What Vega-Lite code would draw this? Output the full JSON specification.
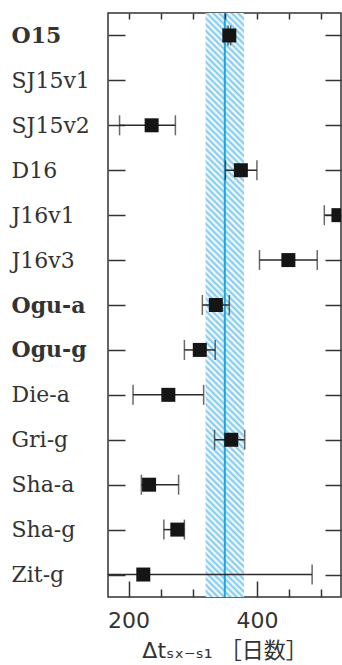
{
"$schema":"https://vega.github.io/schema/vega-lite/v6.json",
"width":233,"height":584,
"autosize":{"type":"none"},
"padding":{"left":108,"top":13,"right":1,"bottom":68},
"background":"#ffffff",
"config":{"view":{"stroke":"#333333","strokeWidth":1.5}},
"datasets":{"est":[
{"name":"O15","value":357,"lo":355,"hi":359},
{"name":"SJ15v2","value":236,"lo":186,"hi":273},
{"name":"D16","value":375,"lo":351,"hi":400},
{"name":"J16v1","value":527,"lo":505,"hi":550},
{"name":"J16v3","value":449,"lo":404,"hi":494},
{"name":"Ogu-a","value":336,"lo":315,"hi":357},
{"name":"Ogu-g","value":311,"lo":287,"hi":335},
{"name":"Die-a","value":262,"lo":207,"hi":317},
{"name":"Gri-g","value":360,"lo":334,"hi":381},
{"name":"Sha-a","value":232,"lo":220,"hi":278},
{"name":"Sha-g","value":276,"lo":255,"hi":287},
{"name":"Zit-g","value":223,"lo":150,"hi":486}
]},
"resolve":{"axis":{"x":"independent","y":"independent"}},
"layer":[
{"data":{"values":[{"lo":320,"hi":380}]},
"mark":{"type":"rect","clip":true,"fill":{"gradient":"linear","x1":0,"y1":1,"x2":0.07,"y2":-0.0613,"stops":[
{"offset":0,"color":"#7cc7ea"},{"offset":0.005,"color":"#fff"},{"offset":0.01,"color":"#7cc7ea"},{"offset":0.015,"color":"#fff"},{"offset":0.02,"color":"#7cc7ea"},{"offset":0.025,"color":"#fff"},{"offset":0.03,"color":"#7cc7ea"},{"offset":0.035,"color":"#fff"},{"offset":0.04,"color":"#7cc7ea"},{"offset":0.045,"color":"#fff"},
{"offset":0.05,"color":"#7cc7ea"},{"offset":0.055,"color":"#fff"},{"offset":0.06,"color":"#7cc7ea"},{"offset":0.065,"color":"#fff"},{"offset":0.07,"color":"#7cc7ea"},{"offset":0.075,"color":"#fff"},{"offset":0.08,"color":"#7cc7ea"},{"offset":0.085,"color":"#fff"},{"offset":0.09,"color":"#7cc7ea"},{"offset":0.095,"color":"#fff"},
{"offset":0.1,"color":"#7cc7ea"},{"offset":0.105,"color":"#fff"},{"offset":0.11,"color":"#7cc7ea"},{"offset":0.115,"color":"#fff"},{"offset":0.12,"color":"#7cc7ea"},{"offset":0.125,"color":"#fff"},{"offset":0.13,"color":"#7cc7ea"},{"offset":0.135,"color":"#fff"},{"offset":0.14,"color":"#7cc7ea"},{"offset":0.145,"color":"#fff"},
{"offset":0.15,"color":"#7cc7ea"},{"offset":0.155,"color":"#fff"},{"offset":0.16,"color":"#7cc7ea"},{"offset":0.165,"color":"#fff"},{"offset":0.17,"color":"#7cc7ea"},{"offset":0.175,"color":"#fff"},{"offset":0.18,"color":"#7cc7ea"},{"offset":0.185,"color":"#fff"},{"offset":0.19,"color":"#7cc7ea"},{"offset":0.195,"color":"#fff"},
{"offset":0.2,"color":"#7cc7ea"},{"offset":0.205,"color":"#fff"},{"offset":0.21,"color":"#7cc7ea"},{"offset":0.215,"color":"#fff"},{"offset":0.22,"color":"#7cc7ea"},{"offset":0.225,"color":"#fff"},{"offset":0.23,"color":"#7cc7ea"},{"offset":0.235,"color":"#fff"},{"offset":0.24,"color":"#7cc7ea"},{"offset":0.245,"color":"#fff"},
{"offset":0.25,"color":"#7cc7ea"},{"offset":0.255,"color":"#fff"},{"offset":0.26,"color":"#7cc7ea"},{"offset":0.265,"color":"#fff"},{"offset":0.27,"color":"#7cc7ea"},{"offset":0.275,"color":"#fff"},{"offset":0.28,"color":"#7cc7ea"},{"offset":0.285,"color":"#fff"},{"offset":0.29,"color":"#7cc7ea"},{"offset":0.295,"color":"#fff"},
{"offset":0.3,"color":"#7cc7ea"},{"offset":0.305,"color":"#fff"},{"offset":0.31,"color":"#7cc7ea"},{"offset":0.315,"color":"#fff"},{"offset":0.32,"color":"#7cc7ea"},{"offset":0.325,"color":"#fff"},{"offset":0.33,"color":"#7cc7ea"},{"offset":0.335,"color":"#fff"},{"offset":0.34,"color":"#7cc7ea"},{"offset":0.345,"color":"#fff"},
{"offset":0.35,"color":"#7cc7ea"},{"offset":0.355,"color":"#fff"},{"offset":0.36,"color":"#7cc7ea"},{"offset":0.365,"color":"#fff"},{"offset":0.37,"color":"#7cc7ea"},{"offset":0.375,"color":"#fff"},{"offset":0.38,"color":"#7cc7ea"},{"offset":0.385,"color":"#fff"},{"offset":0.39,"color":"#7cc7ea"},{"offset":0.395,"color":"#fff"},
{"offset":0.4,"color":"#7cc7ea"},{"offset":0.405,"color":"#fff"},{"offset":0.41,"color":"#7cc7ea"},{"offset":0.415,"color":"#fff"},{"offset":0.42,"color":"#7cc7ea"},{"offset":0.425,"color":"#fff"},{"offset":0.43,"color":"#7cc7ea"},{"offset":0.435,"color":"#fff"},{"offset":0.44,"color":"#7cc7ea"},{"offset":0.445,"color":"#fff"},
{"offset":0.45,"color":"#7cc7ea"},{"offset":0.455,"color":"#fff"},{"offset":0.46,"color":"#7cc7ea"},{"offset":0.465,"color":"#fff"},{"offset":0.47,"color":"#7cc7ea"},{"offset":0.475,"color":"#fff"},{"offset":0.48,"color":"#7cc7ea"},{"offset":0.485,"color":"#fff"},{"offset":0.49,"color":"#7cc7ea"},{"offset":0.495,"color":"#fff"},
{"offset":0.5,"color":"#7cc7ea"},{"offset":0.505,"color":"#fff"},{"offset":0.51,"color":"#7cc7ea"},{"offset":0.515,"color":"#fff"},{"offset":0.52,"color":"#7cc7ea"},{"offset":0.525,"color":"#fff"},{"offset":0.53,"color":"#7cc7ea"},{"offset":0.535,"color":"#fff"},{"offset":0.54,"color":"#7cc7ea"},{"offset":0.545,"color":"#fff"},
{"offset":0.55,"color":"#7cc7ea"},{"offset":0.555,"color":"#fff"},{"offset":0.56,"color":"#7cc7ea"},{"offset":0.565,"color":"#fff"},{"offset":0.57,"color":"#7cc7ea"},{"offset":0.575,"color":"#fff"},{"offset":0.58,"color":"#7cc7ea"},{"offset":0.585,"color":"#fff"},{"offset":0.59,"color":"#7cc7ea"},{"offset":0.595,"color":"#fff"},
{"offset":0.6,"color":"#7cc7ea"},{"offset":0.605,"color":"#fff"},{"offset":0.61,"color":"#7cc7ea"},{"offset":0.615,"color":"#fff"},{"offset":0.62,"color":"#7cc7ea"},{"offset":0.625,"color":"#fff"},{"offset":0.63,"color":"#7cc7ea"},{"offset":0.635,"color":"#fff"},{"offset":0.64,"color":"#7cc7ea"},{"offset":0.645,"color":"#fff"},
{"offset":0.65,"color":"#7cc7ea"},{"offset":0.655,"color":"#fff"},{"offset":0.66,"color":"#7cc7ea"},{"offset":0.665,"color":"#fff"},{"offset":0.67,"color":"#7cc7ea"},{"offset":0.675,"color":"#fff"},{"offset":0.68,"color":"#7cc7ea"},{"offset":0.685,"color":"#fff"},{"offset":0.69,"color":"#7cc7ea"},{"offset":0.695,"color":"#fff"},
{"offset":0.7,"color":"#7cc7ea"},{"offset":0.705,"color":"#fff"},{"offset":0.71,"color":"#7cc7ea"},{"offset":0.715,"color":"#fff"},{"offset":0.72,"color":"#7cc7ea"},{"offset":0.725,"color":"#fff"},{"offset":0.73,"color":"#7cc7ea"},{"offset":0.735,"color":"#fff"},{"offset":0.74,"color":"#7cc7ea"},{"offset":0.745,"color":"#fff"},
{"offset":0.75,"color":"#7cc7ea"},{"offset":0.755,"color":"#fff"},{"offset":0.76,"color":"#7cc7ea"},{"offset":0.765,"color":"#fff"},{"offset":0.77,"color":"#7cc7ea"},{"offset":0.775,"color":"#fff"},{"offset":0.78,"color":"#7cc7ea"},{"offset":0.785,"color":"#fff"},{"offset":0.79,"color":"#7cc7ea"},{"offset":0.795,"color":"#fff"},
{"offset":0.8,"color":"#7cc7ea"},{"offset":0.805,"color":"#fff"},{"offset":0.81,"color":"#7cc7ea"},{"offset":0.815,"color":"#fff"},{"offset":0.82,"color":"#7cc7ea"},{"offset":0.825,"color":"#fff"},{"offset":0.83,"color":"#7cc7ea"},{"offset":0.835,"color":"#fff"},{"offset":0.84,"color":"#7cc7ea"},{"offset":0.845,"color":"#fff"},
{"offset":0.85,"color":"#7cc7ea"},{"offset":0.855,"color":"#fff"},{"offset":0.86,"color":"#7cc7ea"},{"offset":0.865,"color":"#fff"},{"offset":0.87,"color":"#7cc7ea"},{"offset":0.875,"color":"#fff"},{"offset":0.88,"color":"#7cc7ea"},{"offset":0.885,"color":"#fff"},{"offset":0.89,"color":"#7cc7ea"},{"offset":0.895,"color":"#fff"},
{"offset":0.9,"color":"#7cc7ea"},{"offset":0.905,"color":"#fff"},{"offset":0.91,"color":"#7cc7ea"},{"offset":0.915,"color":"#fff"},{"offset":0.92,"color":"#7cc7ea"},{"offset":0.925,"color":"#fff"},{"offset":0.93,"color":"#7cc7ea"},{"offset":0.935,"color":"#fff"},{"offset":0.94,"color":"#7cc7ea"},{"offset":0.945,"color":"#fff"},
{"offset":0.95,"color":"#7cc7ea"},{"offset":0.955,"color":"#fff"},{"offset":0.96,"color":"#7cc7ea"},{"offset":0.965,"color":"#fff"},{"offset":0.97,"color":"#7cc7ea"},{"offset":0.975,"color":"#fff"},{"offset":0.98,"color":"#7cc7ea"},{"offset":0.985,"color":"#fff"},{"offset":0.99,"color":"#7cc7ea"},{"offset":0.995,"color":"#fff"},
{"offset":1,"color":"#7cc7ea"}
]}},
"encoding":{
"x":{"field":"lo","type":"quantitative","scale":{"domain":[168,531],"nice":false,"zero":false},
"axis":{"orient":"bottom","values":[200,250,300,400,450,500],"tickSize":{"condition":{"test":"datum.value % 200 === 0","value":-16},"value":-8},"tickWidth":1.5,"tickColor":"#333333","domain":false,"grid":false,"labelExpr":"datum.value % 200 === 0 ? datum.label : ''","labelFont":"DejaVu Sans","labelFontSize":22,"labelColor":"#333333","labelPadding":29,"labelFlush":false,"labelOverlap":false,"title":"Δtₛₓ₋ₛ₁ ［日数］","titleFont":"DejaVu Sans, Noto Sans CJK JP","titleFontSize":22,"titleFontWeight":"normal","titleColor":"#333333","titleY":60,"titleBaseline":"alphabetic","zindex":1}},
"x2":{"field":"hi"}}},
{"data":{"values":[{"v":350}]},
"mark":{"type":"rule","color":"#1ba6de","strokeWidth":2},
"encoding":{"x":{"field":"v","type":"quantitative","scale":{"domain":[168,531],"nice":false,"zero":false},
"axis":{"orient":"top","values":[200,250,300,350,400,450,500],"tickSize":-6,"tickWidth":1.5,"tickColor":"#333333","labels":false,"domain":false,"grid":false,"title":null,"zindex":1}}}},
{"data":{"name":"est"},
"mark":{"type":"rule","clip":true,"color":"#2a2a2a","strokeWidth":1.5},
"encoding":{
"y":{"field":"name","type":"nominal","sort":null,"scale":{"type":"point","padding":0.5,"domain":["O15","SJ15v1","SJ15v2","D16","J16v1","J16v3","Ogu-a","Ogu-g","Die-a","Gri-g","Sha-a","Sha-g","Zit-g"]},
"axis":{"orient":"left","tickSize":-17,"tickWidth":1.5,"tickColor":"#333333","domain":false,"grid":false,"labelAlign":"left","labelBaseline":"middle","labelPadding":114,"labelLimit":200,"labelFont":"DejaVu Serif","labelFontSize":22,"labelColor":"#333333","labelFontWeight":{"condition":{"test":"indexof(['O15','Ogu-a','Ogu-g'], datum.value) >= 0","value":"bold"},"value":"normal"},"title":null}},
"x":{"field":"lo","type":"quantitative","scale":{"domain":[168,531],"nice":false,"zero":false},"axis":null},
"x2":{"field":"hi"}}},
{"data":{"name":"est"},
"mark":{"type":"tick","clip":true,"color":"#2a2a2a","size":20,"thickness":1.5},
"encoding":{
"y":{"field":"name","type":"nominal","sort":null,"scale":{"type":"point","padding":0.5,"domain":["O15","SJ15v1","SJ15v2","D16","J16v1","J16v3","Ogu-a","Ogu-g","Die-a","Gri-g","Sha-a","Sha-g","Zit-g"]},
"axis":{"orient":"right","tickSize":-16,"tickWidth":1.5,"tickColor":"#333333","labels":false,"domain":false,"grid":false,"title":null}},
"x":{"field":"lo","type":"quantitative","scale":{"domain":[168,531],"nice":false,"zero":false},"axis":null}}},
{"data":{"name":"est"},
"mark":{"type":"tick","clip":true,"color":"#2a2a2a","size":20,"thickness":1.5},
"encoding":{
"y":{"field":"name","type":"nominal","sort":null,"scale":{"type":"point","padding":0.5,"domain":["O15","SJ15v1","SJ15v2","D16","J16v1","J16v3","Ogu-a","Ogu-g","Die-a","Gri-g","Sha-a","Sha-g","Zit-g"]},"axis":null},
"x":{"field":"hi","type":"quantitative","scale":{"domain":[168,531],"nice":false,"zero":false},"axis":null}}},
{"data":{"name":"est"},
"mark":{"type":"point","shape":"square","filled":true,"clip":true,"color":"#151515","opacity":1,"size":196},
"encoding":{
"y":{"field":"name","type":"nominal","sort":null,"scale":{"type":"point","padding":0.5,"domain":["O15","SJ15v1","SJ15v2","D16","J16v1","J16v3","Ogu-a","Ogu-g","Die-a","Gri-g","Sha-a","Sha-g","Zit-g"]},"axis":null},
"x":{"field":"value","type":"quantitative","scale":{"domain":[168,531],"nice":false,"zero":false},"axis":null}}}
]
}
